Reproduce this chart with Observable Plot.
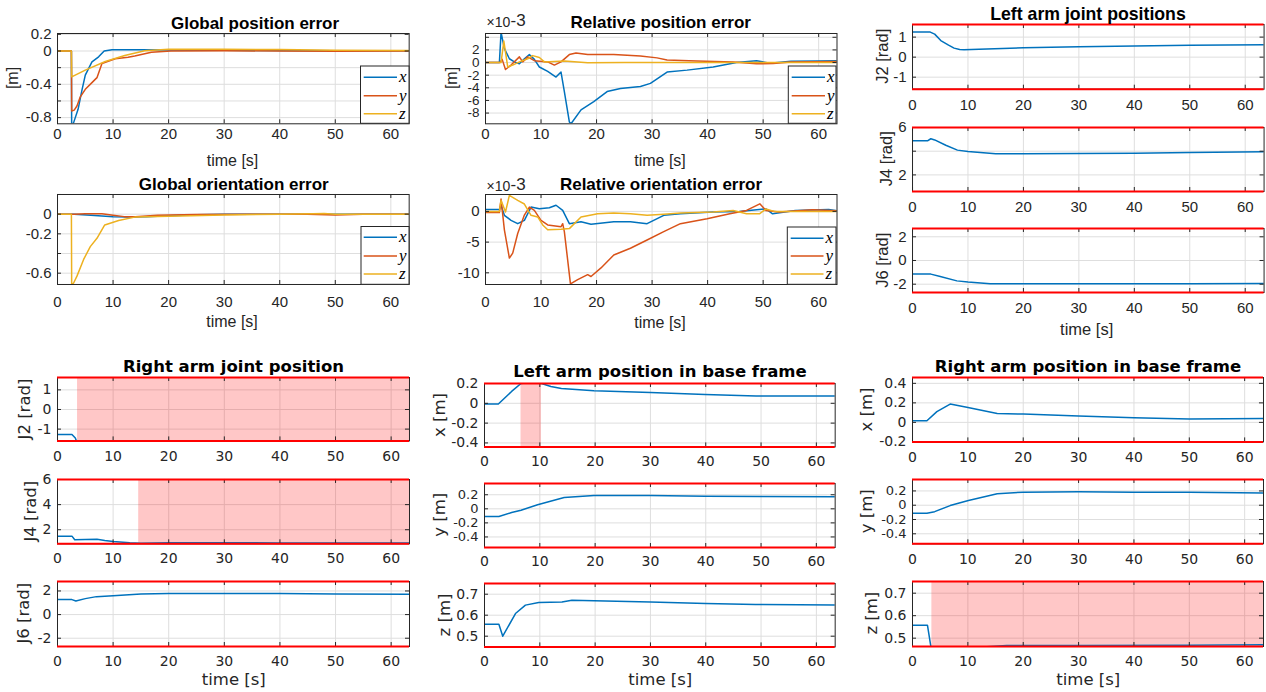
<!DOCTYPE html>
<html><head><meta charset="utf-8">
<script src="https://cdn.jsdelivr.net/npm/d3@7"></script>
<script src="https://cdn.jsdelivr.net/npm/@observablehq/plot@0.6"></script>
<style>
html,body{margin:0;padding:0;background:#fff;}
#fig{position:relative;width:1266px;height:692px;overflow:hidden;background:#fff;}
.panel{position:absolute;}
#overlay{position:absolute;left:0;top:0;pointer-events:none;}
</style></head><body><div id="fig"></div>
<script>
// ---------- tick values ----------
const timeTicks = [0, 10, 20, 30, 40, 50, 60];

// ---------- Global position error [m] ----------
const gposX = [[0,0],[2.5,0],[2.55,-0.92],[2.9,-0.86],[3.7,-0.70],[4.4,-0.47],[5.0,-0.29],[6.2,-0.13],[7.4,-0.07],[8.4,0],[9.8,0.015],[15,0.015],[20,0.012],[30,0.008],[40,0.005],[50,0.003],[63.3,0.002]];
const gposY = [[0,0],[2.5,0],[2.55,-0.72],[3.0,-0.71],[3.5,-0.66],[4.1,-0.55],[5.0,-0.46],[6.2,-0.38],[7.1,-0.32],[8.0,-0.15],[10.4,-0.094],[12.7,-0.074],[13.9,-0.06],[16.9,-0.016],[20.4,0],[30,0.003],[40,0],[50,-0.003],[63.3,0]];
const gposZ = [[0,0],[2.5,0],[2.55,-0.31],[5.0,-0.23],[8.6,-0.126],[12.1,-0.055],[15.7,0.004],[20,0.02],[30,0.02],[40,0.018],[50,0.01],[63.3,0.005]];

// ---------- Global orientation error ----------
const goriX = [[0,0],[3,0],[6,-0.01],[10,-0.025],[13,-0.03],[16,-0.025],[20,-0.015],[25,-0.005],[30,0],[63.3,0]];
const goriY = [[0,0],[3,0],[5,0.005],[8,0.005],[10,-0.01],[12,-0.025],[14,-0.025],[18,-0.012],[25,-0.003],[35,0],[45,0],[50,-0.008],[55,0],[63.3,0]];
const goriZ = [[0,0],[2.5,0],[2.55,-0.72],[2.9,-0.70],[3.5,-0.63],[4.7,-0.46],[5.9,-0.33],[7.1,-0.245],[8.5,-0.11],[11,-0.065],[13.9,-0.03],[20,-0.02],[30,-0.008],[40,0],[46,0.005],[48,0.008],[50,0],[63.3,0]];

// ---------- Relative position error (x1e-3) ----------
const rposX = [[0,0],[2.5,0],[2.8,4.8],[3.4,2.2],[4.3,0.6],[5.2,0.1],[6.1,-0.2],[7.0,0.6],[7.9,1.26],[8.8,0.5],[9.7,-0.7],[11.2,-1.4],[12.7,-2.3],[13.6,-1.5],[14.2,-4.6],[15.1,-9.4],[15.4,-9.7],[17.2,-7.5],[19.5,-6.2],[21.9,-4.6],[24.3,-4.1],[27.9,-3.8],[29.7,-3.3],[32.7,-1.5],[36.3,-1.2],[41,-0.7],[45.2,0],[48.8,0.3],[51.2,-0.1],[55,0.2],[60,0.25],[63.3,0.3]];
const rposY = [[0,0],[2.6,0],[3.0,0.5],[3.6,-1.1],[4.6,-0.4],[6.1,0.9],[6.7,0.1],[7.6,0.9],[8.8,0.3],[11.2,0.1],[12.4,-0.4],[13.6,0.1],[15.1,1.26],[16.3,1.5],[18.4,1.26],[23.1,1.26],[27.9,1.05],[30.9,0.74],[32.7,0.4],[38,0.26],[44.6,0.1],[48.8,-0.2],[51.8,-0.15],[55,0.1],[63.3,0.15]];
const rposZ = [[0,0],[2.8,0],[3.3,3.4],[4.0,-0.7],[4.9,-0.4],[6.1,0.1],[7.6,0.6],[8.5,1.1],[9.7,0.8],[10.6,0.1],[14.2,0.26],[18.4,-0.05],[25,0],[63.3,0]];

// ---------- Relative orientation error (x1e-3) ----------
const roriX = [[0,0.3],[2.5,0.3],[2.8,1.0],[3.4,-0.64],[4.6,-1.45],[5.8,-2.0],[7.0,-1.45],[8.2,0.7],[9.7,0.43],[11.5,0.6],[12.7,1.0],[13.9,0.16],[15.1,-2.0],[17.2,-1.7],[19.0,-2.1],[23.1,-1.7],[26.1,-1.7],[29.1,-2.0],[32.1,-0.64],[35.1,-0.37],[41,-0.1],[45.7,0],[50.5,0.4],[51.7,-0.4],[55.8,0.16],[61.8,0.3],[63.3,0.1]];
const roriY = [[0,-0.2],[2.5,-0.2],[2.8,2.0],[3.4,-3.0],[4.3,-7.6],[4.9,-6.8],[5.8,-3.6],[7.0,-0.6],[7.9,0.7],[8.8,0.16],[10,-1.45],[11.2,-2.2],[13.6,-2.5],[13.9,-2.0],[14.2,-3.3],[15.3,-11.8],[16.6,-11.1],[18.4,-10.3],[19,-10.6],[20.8,-9.2],[23.1,-7.1],[26.1,-6.0],[29.1,-4.65],[32.1,-3.3],[35.1,-2.0],[39.9,-1.2],[44,-0.37],[47,0.16],[49.4,1.23],[50.5,0.16],[52.9,-0.1],[58.9,0.27],[63.3,0.1]];
const roriZ = [[0,0],[2.5,0],[2.8,1.8],[3.6,-0.1],[4.3,2.6],[5.8,1.8],[7.0,1.2],[8.2,-0.64],[9.4,-0.9],[10.3,-2.2],[11.2,-3.0],[13.6,-2.9],[15.1,-2.8],[17.2,-0.9],[20.2,-0.37],[23.1,-0.27],[26.1,-0.37],[29.1,-0.64],[32.1,-0.48],[35.1,-0.27],[41,-0.1],[44.6,0.16],[47,-0.37],[49.4,-0.37],[50.5,0.4],[52,0],[63.3,0]];

// ---------- Left arm joint positions [rad] ----------
const lJ2 = [[0,1.25],[3.2,1.25],[4,1.15],[5.1,0.83],[6.5,0.6],[7.5,0.45],[8.5,0.38],[9.3,0.37],[12,0.4],[20,0.47],[30,0.52],[40,0.56],[50,0.6],[63.4,0.62]];
const lJ4 = [[0,4.88],[2.7,4.88],[3.3,5.05],[4,4.95],[6,4.5],[8.1,4.09],[10,3.97],[15,3.78],[20,3.78],[30,3.8],[40,3.83],[50,3.88],[63.4,3.95]];
const lJ6 = [[0,-1.15],[3.3,-1.15],[5,-1.35],[8,-1.72],[10,-1.82],[14,-1.97],[30,-1.97],[50,-1.96],[63.4,-1.94]];

// ---------- Right arm joint position [rad] ----------
const rJ2 = [[0,-1.27],[2.6,-1.27],[3.2,-1.45],[3.6,-1.75],[4,-1.8]];
const rJ4 = [[0,1.49],[2.6,1.49],[3.1,1.2],[5,1.22],[7.1,1.25],[8.5,1.15],[10,1.06],[13,0.96],[15,0.93],[20,0.97],[30,0.96],[40,0.95],[50,0.94],[63.3,0.94]];
const rJ6 = [[0,1.27],[2.6,1.27],[3.3,1.15],[5,1.35],[7,1.52],[10,1.6],[15,1.75],[20,1.78],[40,1.78],[50,1.75],[63.3,1.72]];

// ---------- Left arm position in base frame [m] ----------
const lbX = [[0,-0.007],[2.5,-0.007],[4.9,0.12],[6.6,0.2],[8,0.21],[9.5,0.205],[10.3,0.2],[12,0.17],[13.9,0.15],[19.8,0.128],[30,0.108],[39.9,0.09],[49.1,0.074],[63.4,0.074]];
const lbY = [[0,-0.11],[2.6,-0.11],[4.9,-0.053],[6.6,-0.02],[9.6,0.057],[14.4,0.16],[19.8,0.19],[30,0.19],[40,0.18],[50,0.175],[63.4,0.17]];
const lbZ = [[0,0.557],[2.6,0.557],[3.3,0.5],[5.6,0.608],[7.4,0.648],[9.8,0.66],[14,0.663],[15.8,0.671],[19.8,0.669],[30,0.663],[40,0.656],[49,0.651],[63.4,0.649]];

// ---------- Right arm position in base frame [m] ----------
const rbX = [[0,0.016],[2.6,0.016],[4.4,0.11],[6.8,0.188],[9.8,0.154],[15.3,0.092],[20,0.085],[30,0.065],[40,0.047],[50,0.034],[63.4,0.04]];
const rbY = [[0,-0.113],[2.6,-0.113],[4,-0.09],[6.8,-0.005],[10.1,0.066],[15.3,0.16],[20,0.183],[30,0.19],[40,0.183],[50,0.18],[63.4,0.17]];
const rbZ = [[0,0.558],[2.7,0.558],[3.4,0.45],[10,0.457],[17,0.467],[30,0.468],[50,0.469],[63.4,0.471]];

// ---------- limit violation intervals [s] ----------
const shadeRJ2 = [[3.6, 63.3]];
const shadeRJ4 = [[14.6, 63.3]];
const shadeLbX = [[6.6, 10.3]];
const shadeRbZ = [[3.5, 63.4]];

const BLUE = "#0072BD", ORANGE = "#D95319", YELLOW = "#EDB120";
const LIB = "'Liberation Sans', Arial, Helvetica, sans-serif";
const DJV = "'DejaVu Sans', sans-serif";
const FONTS = {
  A: {family: LIB, tick: 15, label: 16, title: 17},
  B: {family: LIB, tick: 15, label: 16.5, title: 17.7},
  C: {family: DJV, tick: 14, label: 16.5, title: 16.5}
};
const xyz = (a, b, c) => [{data: a, color: BLUE}, {data: b, color: ORANGE}, {data: c, color: YELLOW}];
const one = a => [{data: a, color: BLUE}];

const panels = [
  {L:57.3, T:33, R:409, B:123.3, xmax:63.3, ydom:[-0.874,0.21], yLabels:[0.2,0,-0.4,-0.8], yGrid:[-0.8,-0.6,-0.4,-0.2,0,0.2], series:xyz(gposX,gposY,gposZ), font:"A", xPad:5},
  {L:57.3, T:194.3, R:409, B:284.3, xmax:63.3, ydom:[-0.715,0.2], yLabels:[0,-0.2,-0.6], yGrid:[-0.6,-0.4,-0.2,0,0.2], series:xyz(goriX,goriY,goriZ), font:"A", xPad:11.5},
  {L:484.5, T:33, R:836, B:123.3, xmax:63.3, ydom:[-9.7,4.6], yLabels:[2,0,-2,-4,-6,-8], yGrid:[-8,-6,-4,-2,0,2,4], series:xyz(rposX,rposY,rposZ), font:"A", xPad:5, yFont:13.5},
  {L:484.5, T:194.3, R:836, B:284.3, xmax:63.3, ydom:[-11.9,2.75], yLabels:[0,-5,-10], yGrid:[-10,-5,0], series:xyz(roriX,roriY,roriZ), font:"A", xPad:11.5},
  {L:911.7, T:24, R:1263.3, B:88.7, xmax:63.4, ydom:[-1.6,1.63], yLabels:[1,0,-1], yGrid:[-1,0,1], series:one(lJ2), limits:[-1.6,1.63], font:"B", xPad:10.5},
  {L:911.7, T:126.7, R:1263.3, B:190.7, xmax:63.4, ydom:[0.6,6], yLabels:[6,2], yGrid:[2,4,6], series:one(lJ4), limits:[0.6,6], font:"B", xPad:9.5},
  {L:911.7, T:228.3, R:1263.3, B:292.3, xmax:63.4, ydom:[-2.7,2.7], yLabels:[2,0,-2], yGrid:[-2,0,2], series:one(lJ6), limits:[-2.7,2.7], font:"B", xPad:9.5},
  {L:57.3, T:377.3, R:409.3, B:440.7, xmax:63.3, ydom:[-1.6,1.63], yLabels:[1,0,-1], yGrid:[-1,0,1], series:one(rJ2), limits:[-1.6,1.63], shade:shadeRJ2, font:"C", xPad:10.5},
  {L:57.3, T:479, R:409.3, B:543.3, xmax:63.3, ydom:[0.88,6], yLabels:[6,4,2], yGrid:[2,4,6], series:one(rJ4), limits:[0.88,6], shade:shadeRJ4, font:"C", xPad:9.7},
  {L:57.3, T:580.7, R:409.3, B:645.7, xmax:63.3, ydom:[-2.7,2.8], yLabels:[2,0,-2], yGrid:[-2,0,2], series:one(rJ6), limits:[-2.7,2.8], font:"C", xPad:9.5},
  {L:484.3, T:383.3, R:835, B:446.7, xmax:63.4, ydom:[-0.44,0.2], yLabels:[0.2,0,-0.2,-0.4], yGrid:[-0.4,-0.2,0,0.2], series:one(lbX), limits:[-0.44,0.2], shade:shadeLbX, font:"C", xPad:9.3},
  {L:484.3, T:482.7, R:835, B:546.7, xmax:63.4, ydom:[-0.55,0.36], yLabels:[0.2,0,-0.2,-0.4], yGrid:[-0.4,-0.2,0,0.2], series:one(lbY), limits:[-0.55,0.36], font:"C", xPad:9, yFont:13},
  {L:484.3, T:583.3, R:835, B:646.7, xmax:63.4, ydom:[0.449,0.751], yLabels:[0.7,0.6,0.5], yGrid:[0.5,0.6,0.7], series:one(lbZ), limits:[0.449,0.751], font:"C", xPad:9.3},
  {L:912.3, T:377.3, R:1263.3, B:441.7, xmax:63.4, ydom:[-0.2,0.46], yLabels:[0.4,0.2,0,-0.2], yGrid:[-0.2,0,0.2,0.4], series:one(rbX), limits:[-0.2,0.46], font:"C", xPad:10},
  {L:912.3, T:479, R:1263.3, B:543.3, xmax:63.4, ydom:[-0.54,0.36], yLabels:[0.2,0,-0.2,-0.4], yGrid:[-0.4,-0.2,0,0.2], series:one(rbY), limits:[-0.54,0.36], font:"C", xPad:10, yFont:13},
  {L:912.3, T:580.7, R:1263.3, B:645.7, xmax:63.4, ydom:[0.463,0.752], yLabels:[0.7,0.6,0.5], yGrid:[0.5,0.6,0.7], series:one(rbZ), limits:[0.463,0.752], shade:shadeRbZ, font:"C", xPad:9.3}
];

const fig = document.getElementById("fig");
const ml = 62, mr = 8, mt = 12, mb = 30;
for (const p of panels) {
  const W = p.R - p.L, H = p.B - p.T;
  const f = FONTS[p.font];
  const marks = [
    Plot.gridX(timeTicks, {stroke: "#dedede", strokeOpacity: 1}),
    Plot.gridY(p.yGrid, {stroke: "#dedede", strokeOpacity: 1})
  ];
  if (p.shade) marks.push(Plot.rect(p.shade, {x1: d => d[0], x2: d => d[1], fill: "#ff0000", fillOpacity: 0.22}));
  for (const s of p.series) marks.push(Plot.line(s.data, {x: d => d[0], y: d => d[1], stroke: s.color, strokeWidth: 1.5, clip: true}));
  marks.push(
    Plot.tickX(timeTicks, {x: d => d, insetTop: H - 4, stroke: "#262626"}),
    Plot.tickX(timeTicks, {x: d => d, insetBottom: H - 4, stroke: "#262626"}),
    Plot.tickY(p.yGrid, {y: d => d, insetRight: W - 4, stroke: "#262626"}),
    Plot.tickY(p.yGrid, {y: d => d, insetLeft: W - 4, stroke: "#262626"}),
    Plot.frame({stroke: "#262626"})
  );
  if (p.limits) marks.push(Plot.ruleY(p.limits, {stroke: "#ff0000", strokeWidth: 2}));
  marks.push(
    Plot.axisX(timeTicks, {tickSize: 0, tickPadding: p.xPad, tickFormat: d => String(d), label: null}),
    Plot.axisY(p.yLabels, {tickSize: 0, tickPadding: 6, tickFormat: d => String(d), label: null, fontSize: p.yFont ?? f.tick})
  );
  const svg = Plot.plot({
    width: W + ml + mr, height: H + mt + mb,
    marginLeft: ml, marginRight: mr, marginTop: mt, marginBottom: mb,
    x: {domain: [0, p.xmax]}, y: {domain: p.ydom},
    style: {fontFamily: f.family, fontSize: f.tick + "px", color: "#262626", background: "transparent", overflow: "visible"},
    marks
  });
  const div = document.createElement("div");
  div.className = "panel";
  div.style.left = (p.L - ml) + "px";
  div.style.top = (p.T - mt) + "px";
  div.style.width = (W + ml + mr) + "px";
  div.appendChild(svg);
  fig.appendChild(div);
}

// ---------- overlay: titles, axis labels, legends ----------
const ov = d3.select(fig).append("svg").attr("id", "overlay").attr("width", 1266).attr("height", 692);
const titles = [
  ["Global position error", 255, 29.3, "A"],
  ["Global orientation error", 233.8, 190, "A"],
  ["Relative position error", 660.7, 28.3, "A"],
  ["Relative orientation error", 661, 190, "A"],
  ["Left arm joint positions", 1088, 20, "B"],
  ["Right arm joint position", 233.5, 371.7, "C"],
  ["Left arm position in base frame", 660, 377.3, "C"],
  ["Right arm position in base frame", 1088, 371.7, "C"]
];
for (const [t, x, y, g] of titles)
  ov.append("text").attr("x", x).attr("y", y).attr("text-anchor", "middle")
    .attr("font-family", FONTS[g].family).attr("font-weight", "bold").attr("font-size", FONTS[g].title).attr("fill", "#000").text(t);

const xlabels = [[232.5,165.7,"A"],[232,327.3,"A"],[660,165.7,"A"],[660,328.3,"A"],[1086.7,335,"B"],[233.8,685,"C"],[660.3,685,"C"],[1088.3,685,"C"]];
for (const [x, y, g] of xlabels)
  ov.append("text").attr("x", x).attr("y", y).attr("text-anchor", "middle")
    .attr("font-family", FONTS[g].family).attr("font-size", FONTS[g].label).attr("fill", "#262626").text("time [s]");

const ylabels = [
  ["[m]", 12.5, 78, "A"], ["[m]", 451.5, 78, "A"],
  ["J2 [rad]", 881.7, 56.3, "B"], ["J4 [rad]", 886.3, 158.7, "B"], ["J6 [rad]", 881.7, 260.3, "B"],
  ["J2 [rad]", 24.2, 409, "C"], ["J4 [rad]", 30, 511.2, "C"], ["J6 [rad]", 23.7, 613.2, "C"],
  ["x [m]", 439, 415, "C"], ["y [m]", 439, 514.7, "C"], ["z [m]", 444, 615, "C"],
  ["x [m]", 866, 409.5, "C"], ["y [m]", 866.3, 511.2, "C"], ["z [m]", 871, 613.2, "C"]
];
for (const [t, x, y, g] of ylabels)
  ov.append("text").attr("transform", `translate(${x},${y}) rotate(-90)`).attr("text-anchor", "middle")
    .attr("dominant-baseline", "central")
    .attr("font-family", FONTS[g].family).attr("font-size", FONTS[g].label).attr("fill", "#262626").text(t);

// x10^-3 exponent labels
for (const yb of [27.3, 191]) {
  ov.append("text").attr("x", 486.5).attr("y", yb).attr("font-family", LIB).attr("font-size", 14).attr("fill", "#262626").text("×10");
  ov.append("text").attr("x", 510.5).attr("y", yb - 1).attr("font-family", LIB).attr("font-size", 17).attr("fill", "#262626").text("-3");
}

// legends
const legends = [
  {x0: 360.5, y0: 66, x1: 409, y1: 123.3, lx0: 363.7, lx1: 397, rows: [77.3, 95.7, 113.8]},
  {x0: 361, y0: 226.5, x1: 409, y1: 284.3, lx0: 363.7, lx1: 397, rows: [237.3, 256, 274]},
  {x0: 788.3, y0: 66, x1: 836, y1: 123.3, lx0: 791.7, lx1: 825, rows: [77.3, 95.7, 113.8]},
  {x0: 787.3, y0: 227, x1: 836, y1: 284.3, lx0: 790.7, lx1: 823.5, rows: [238.3, 256, 274]}
];
const legNames = ["x", "y", "z"], legColors = [BLUE, ORANGE, YELLOW];
for (const L of legends) {
  ov.append("rect").attr("x", L.x0).attr("y", L.y0).attr("width", L.x1 - L.x0).attr("height", L.y1 - L.y0)
    .attr("fill", "#fff").attr("stroke", "#262626").attr("stroke-width", 1);
  L.rows.forEach((ry, i) => {
    ov.append("line").attr("x1", L.lx0).attr("x2", L.lx1).attr("y1", ry).attr("y2", ry).attr("stroke", legColors[i]).attr("stroke-width", 1.5);
    ov.append("text").attr("x", L.lx1 + 2).attr("y", ry + 4.8).attr("font-family", "'Liberation Serif', 'DejaVu Serif', serif")
      .attr("font-style", "italic").attr("font-size", 17).attr("fill", "#000").text(legNames[i]);
  });
}
</script></body></html>
